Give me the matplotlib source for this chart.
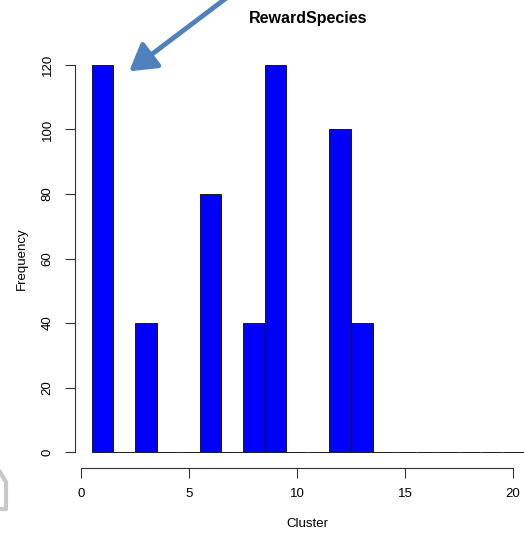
import numpy as np
import matplotlib.pyplot as plt
from matplotlib.lines import Line2D

# histogram of clusters (bins of width 1, centred on integers)
clusters = list(range(1, 21))
counts = [120, 0, 40, 0, 0, 80, 0, 40, 120, 0, 0, 100, 40, 0, 0, 0, 0, 0, 0, 0]
xticks = [0, 5, 10, 15, 20]
yticks = [0, 20, 40, 60, 80, 100, 120]

plt.rcParams['font.family'] = ['Liberation Sans', 'DejaVu Sans']

W, H = 524, 533
fig = plt.figure(figsize=(W / 100, H / 100), dpi=100)
ax = fig.add_axes([74.5 / W, (H - 467.5) / H, (541 - 74.5) / W, (467.5 - 49.5) / H])

ax.bar(clusters, counts, width=1.0, color='#0000ff', edgecolor='#1a1a1a', linewidth=0.7)

ax.set_xlim(-0.3, 21.3)
ax.set_ylim(-4.8, 124.8)
for s in ['top', 'right']:
    ax.spines[s].set_visible(False)
ax.spines['left'].set_bounds(0, 120)
ax.spines['bottom'].set_bounds(0, 20)
for s in ['left', 'bottom']:
    ax.spines[s].set_linewidth(0.8)
    ax.spines[s].set_color('#333333')

ax.set_xticks(xticks)
ax.set_yticks(yticks)
ax.tick_params(length=7, width=0.8, color='#333333', labelsize=9.5, pad=8)
plt.setp(ax.get_yticklabels(), rotation=90, va='center')

ax.set_title('RewardSpecies', fontsize=11.5, fontweight='bold', pad=19)
ax.set_xlabel('Cluster', fontsize=9.5, labelpad=13)
ax.set_ylabel('Frequency', fontsize=9.5, labelpad=10)

# annotation arrow from the screenshot
fig.patches.append(plt.matplotlib.patches.FancyArrowPatch(
    (229 / W, 1 + 4 / H), (127 / W, 1 - 73 / H), transform=fig.transFigure,
    arrowstyle='-|>,head_length=10,head_width=6', mutation_scale=1.6,
    color='#4f81bd', linewidth=3.5, zorder=5))

# partial grey outline at bottom-left edge
fig.lines.append(Line2D([0 / W, 6 / W, 6 / W, 0 / W],
                        [1 - 472 / H, 1 - 482 / H, 1 - 509 / H, 1 - 509 / H],
                        transform=fig.transFigure, color='#c8c8c8', linewidth=3))

fig.savefig('out.png', dpi=100)
